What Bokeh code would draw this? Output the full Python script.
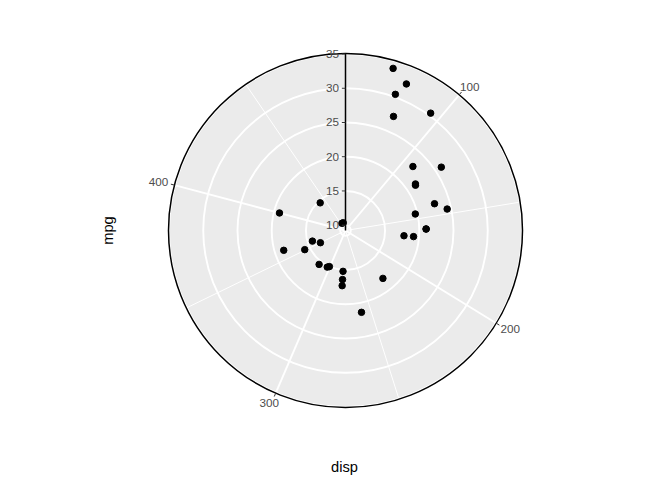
import numpy as np
from bokeh.plotting import figure
from bokeh.models import Range1d
from bokeh.embed import file_html
from bokeh.resources import INLINE
from bokeh.core.properties import value

# mtcars: disp (theta) and mpg (radius)
disp = [160, 160, 108, 258, 360, 225, 360, 146.7, 140.8, 167.6, 167.6, 275.8, 275.8, 275.8,
        472, 460, 440, 78.7, 75.7, 71.1, 120.1, 318, 304, 350, 400, 79, 120.3, 95.1, 351,
        145, 301, 121]
mpg = [21.0, 21.0, 22.8, 21.4, 18.7, 18.1, 14.3, 24.4, 22.8, 19.2, 17.8, 16.4, 17.3, 15.2,
       10.4, 10.4, 14.7, 32.4, 30.4, 33.9, 21.5, 15.5, 15.2, 13.3, 19.2, 27.3, 26.0, 30.4,
       15.8, 19.7, 15.0, 21.4]
theta_major = [100, 200, 300, 400]
theta_minor = [150, 250, 350, 450]
r_major = [10, 15, 20, 25, 30, 35]
theta_labels = ["100", "200", "300", "400"]
r_labels = ["10", "15", "20", "25", "30", "35"]

W, H = 672, 480
PAGE_H = 480
CX, CY = 345.0, PAGE_H - 230.0   # centre in data units (page pixels, y up)
R = 177.0

# scales (5% expansion like ggplot)
t_lo, t_hi = min(disp), max(disp)
t_ex = 0.05 * (t_hi - t_lo)
t_lo, t_hi = t_lo - t_ex, t_hi + t_ex
r_lo, r_hi = min(mpg), max(mpg)
r_ex = 0.05 * (r_hi - r_lo)
r_lo, r_hi = r_lo - r_ex, r_hi + r_ex


def ang(t):
    return 2 * np.pi * (np.asarray(t, dtype=float) - t_lo) / (t_hi - t_lo)


def rad(r):
    return R * (np.asarray(r, dtype=float) - r_lo) / (r_hi - r_lo)


def xy(t, r_px):
    a = ang(t)
    return CX + r_px * np.sin(a), CY + r_px * np.cos(a)


p = figure(width=W, height=H, output_backend="svg", toolbar_location=None,
           x_range=Range1d(0, W), y_range=Range1d(0, H), min_border=0)
p.axis.visible = False
p.grid.visible = False
p.outline_line_color = None
p.background_fill_color = "white"
p.border_fill_color = "white"

# panel disc
p.circle(x=[CX], y=[CY], radius=R, fill_color="#EBEBEB", line_color=None)

# grid circles
rr = rad(r_major)
p.circle(x=[CX] * len(rr), y=[CY] * len(rr), radius=list(rr), fill_color=None,
         line_color="white", line_width=1.9)

# radial grid lines
mx, my = xy(theta_minor, R)
p.segment(x0=[CX] * len(mx), y0=[CY] * len(mx), x1=list(mx), y1=list(my),
          line_color="white", line_width=0.95)
Mx, My = xy(theta_major, R)
p.segment(x0=[CX] * len(Mx), y0=[CY] * len(Mx), x1=list(Mx), y1=list(My),
          line_color="white", line_width=1.9)

# points
px, py = xy(disp, rad(mpg))
p.scatter(x=list(px), y=list(py), size=6.5, color="black")

# axis lines
p.circle(x=[CX], y=[CY], radius=R, fill_color=None, line_color="black", line_width=1.5)
p.segment(x0=[CX], y0=[CY], x1=[CX], y1=[CY + R], line_color="black", line_width=1.5)

# theta ticks
TL = 3.67
t0x, t0y = xy(theta_major, R)
t1x, t1y = xy(theta_major, R + TL)
p.segment(x0=list(t0x), y0=list(t0y), x1=list(t1x), y1=list(t1y),
          line_color="#333333", line_width=1.0)

# theta labels
a = ang(theta_major)
ax, ay = xy(theta_major, R + TL + 2.93)
tw = np.array([len(s) * 6.5 for s in theta_labels])
th = 8.5
lx = ax + np.sin(a) * tw / 2
ly = ay + np.cos(a) * th / 2
p.text(x=list(lx), y=list(ly), text=theta_labels, text_align="center",
       text_baseline="middle", text_font=value("Liberation Sans"),
       text_font_size="11.7px", text_color="#4D4D4D")

# r ticks and labels
ry = CY + rad(r_major)
p.segment(x0=[CX - TL] * len(ry), y0=list(ry), x1=[CX] * len(ry), y1=list(ry),
          line_color="#333333", line_width=1.0)
p.text(x=[CX - TL - 2.93] * len(ry), y=list(ry), text=r_labels, text_align="right",
       text_baseline="middle", text_font=value("Liberation Sans"),
       text_font_size="11.7px", text_color="#4D4D4D")

# axis titles
p.text(x=[344], y=[PAGE_H - 466], text=["disp"], text_align="center",
       text_baseline="middle", text_font=value("Liberation Sans"),
       text_font_size="14.67px", text_color="black")
p.text(x=[107], y=[PAGE_H - 230], text=["mpg"], angle=np.pi / 2, text_align="center",
       text_baseline="middle", text_font=value("Liberation Sans"),
       text_font_size="14.67px", text_color="black")

open("out.html", "w").write(file_html(p, INLINE))
